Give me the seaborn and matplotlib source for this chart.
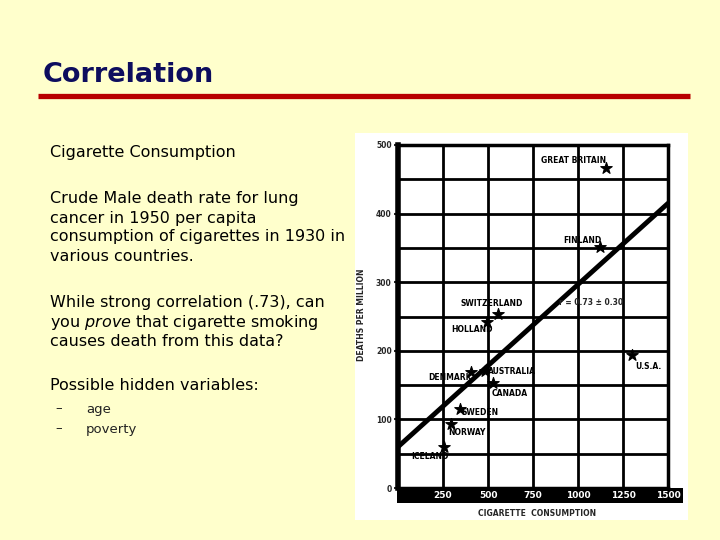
import numpy as np
import pandas as pd
import seaborn as sns
import matplotlib
matplotlib.use('Agg')
from matplotlib import pyplot as plt
from matplotlib.patches import Rectangle

# values
countries = ['ICELAND', 'NORWAY', 'SWEDEN', 'DENMARK', 'AUSTRALIA', 'CANADA',
             'HOLLAND', 'SWITZERLAND', 'FINLAND', 'GREAT BRITAIN', 'U.S.A.']
cig_consumption = [256, 294, 344, 405, 483, 528, 494, 556, 1122, 1156, 1300]
deaths_per_million = [60, 93, 115, 169, 171, 153, 242, 254, 351, 466, 194]

fit_x = [0, 1500]
fit_y = [60, 415]

x_ticks = [0, 250, 500, 750, 1000, 1250, 1500]
x_ticklabels = ['', '250', '500', '750', '1000', '1250', '1500']
y_ticks = [0, 100, 200, 300, 400, 500]

# label placement next to each star (pixels)
label_offsets = [(-14, -10), (16, -8), (20, -3), (-21, -5), (27, -1), (17, -10),
                 (-15, -8), (-6, 10), (-18, 7), (-33, 8), (16, -12)]

df = pd.DataFrame({'country': countries, 'cigs': cig_consumption,
                   'deaths': deaths_per_million})

sns.set_theme(style='white')
plt.rcParams['font.family'] = ['DejaVu Sans']
plt.rcParams['mathtext.fontset'] = 'custom'
plt.rcParams['mathtext.it'] = 'DejaVu Sans:italic'
plt.rcParams['mathtext.rm'] = 'DejaVu Sans'

W, H = 720, 540
fig = plt.figure(figsize=(7.2, 5.4), dpi=100)
fig.patch.set_facecolor('#FFFFCC')


def fx(px):
    return px / W


def fy(py):
    return 1 - py / H


# slide title + rule
fig.text(fx(43), fy(75), 'Correlation', fontsize=19.5, fontweight='bold',
         color='#0D0D5E', va='center', ha='left')
fig.add_artist(plt.Line2D([fx(38), fx(690)], [fy(96), fy(96)], color='#B80000',
                          lw=3.8, solid_capstyle='butt'))

# slide body text
body = [
    (153, 'Cigarette Consumption'),
    (199, 'Crude Male death rate for lung'),
    (218, 'cancer in 1950 per capita'),
    (237, 'consumption of cigarettes in 1930 in'),
    (257, 'various countries.'),
    (302, 'While strong correlation (.73), can'),
    (322, 'you $\\mathit{prove}$ that cigarette smoking'),
    (341, 'causes death from this data?'),
    (386, 'Possible hidden variables:'),
]
for yy, s in body:
    fig.text(fx(50), fy(yy), s, fontsize=11.5, color='black', va='center', ha='left')
for yy, s in [(409, 'age'), (429, 'poverty')]:
    fig.text(fx(55), fy(yy), '\u2013', fontsize=9.5, color='#222222', va='center')
    fig.text(fx(86), fy(yy), s, fontsize=9.5, color='#222222', va='center')

# white scan panel and black axis band
fig.add_artist(Rectangle((fx(355), fy(520)), fx(688) - fx(355), fy(133) - fy(520),
                         transform=fig.transFigure, facecolor='white',
                         edgecolor='none', zorder=-2))
fig.add_artist(Rectangle((fx(397), fy(503)), fx(683) - fx(397), fy(488) - fy(503),
                         transform=fig.transFigure, facecolor='black',
                         edgecolor='none', zorder=-1))

ax = fig.add_axes([fx(398), fy(488), fx(668) - fx(398), fy(145) - fy(488)])
ax.set_facecolor('white')

sns.lineplot(x=fit_x, y=fit_y, color='black', lw=3.5, ax=ax, zorder=3)
sns.scatterplot(data=df, x='cigs', y='deaths', marker='*', s=75, color='black',
                edgecolor='black', linewidth=0.8, ax=ax, zorder=4)

narrow = ['Liberation Sans Narrow', 'DejaVu Sans']
for name, cx, cy, off in zip(countries, cig_consumption, deaths_per_million, label_offsets):
    ax.annotate(name, (cx, cy), xytext=off, textcoords='offset pixels',
                ha='center', va='center', fontsize=5.5, fontweight='bold',
                family=narrow, color='black')

ax.text(1075, 270, 'r = 0.73 \u00b1 0.30', fontsize=5.5, fontweight='bold',
        family=narrow, ha='center', va='center')

ax.set_xlim(0, 1500)
ax.set_ylim(0, 500)
ax.set_xticks(x_ticks)
ax.set_xticklabels(x_ticklabels)
ax.set_yticks(y_ticks)
ax.set_yticks([50, 150, 250, 350, 450], minor=True)
ax.grid(which='both', color='black', lw=2)
ax.set_axisbelow(True)
for sp in ax.spines.values():
    sp.set_visible(True)
    sp.set_color('black')
    sp.set_linewidth(2.5)
ax.spines['left'].set_linewidth(4)

ax.tick_params(axis='x', length=0, pad=2, labelcolor='white', labelsize=6.5)
for lab in ax.get_xticklabels():
    lab.set_family(narrow)
    lab.set_fontweight('bold')
ax.tick_params(axis='y', which='major', length=3, width=1.5, direction='out',
               pad=1.5, labelsize=5.5, left=True)
ax.tick_params(axis='y', which='minor', length=0)
for lab in ax.get_yticklabels():
    lab.set_family(narrow)
    lab.set_fontweight('bold')
ax.set_xlabel('')
ax.set_ylabel('')

fig.text(fx(537), fy(514), 'CIGARETTE  CONSUMPTION', fontsize=5.5, fontweight='bold',
         family=narrow, ha='center', va='center')
fig.text(fx(362), fy(315), 'DEATHS PER MILLION', fontsize=5.5, fontweight='bold',
         family=narrow, ha='center', va='center', rotation=90)

plt.savefig('out.png', dpi=100, facecolor=fig.get_facecolor())
